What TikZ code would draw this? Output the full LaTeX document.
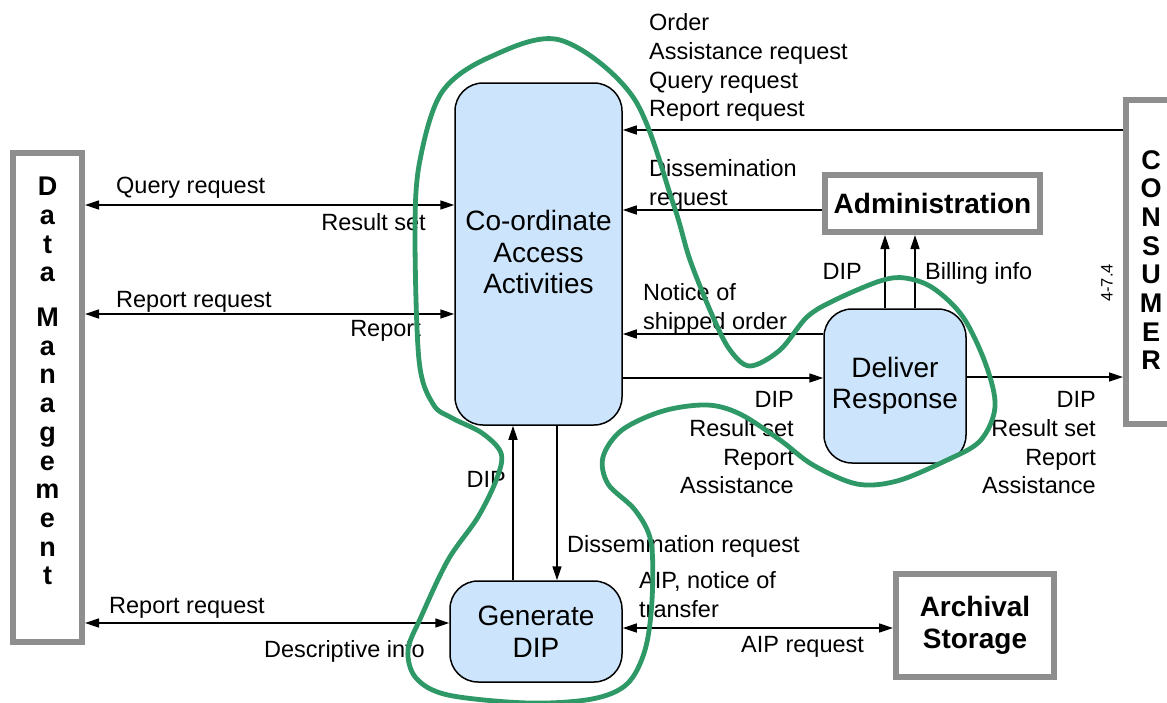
\documentclass[tikz,border=0pt]{standalone}
\usepackage{fontspec}
\setmainfont{Liberation Sans}
\usetikzlibrary{arrows.meta}
\definecolor{procblue}{HTML}{CCE5FC}
\definecolor{extgray}{HTML}{8E8E8E}
\definecolor{loopgreen}{HTML}{2E9966}
\begin{document}
\begin{tikzpicture}[x=1pt,y=-1pt,
  proc/.style={draw=black, line width=1.5pt, fill=procblue, rounded corners=28pt,
    align=center, inner sep=0pt, font=\fontsize{28}{31.5}\selectfont},
  extbox/.style={draw=extgray, line width=6pt, fill=white, align=center, inner sep=0pt,
    font=\bfseries\fontsize{28}{31.5}\selectfont},
  vtext/.style={align=center, inner sep=0pt, anchor=north,
    font=\bfseries\fontsize{27}{28.7}\selectfont},
  lbl/.style={inner sep=0pt, font=\fontsize{23.5}{28.7}\selectfont},
  arr/.style={line width=1.5pt, -{Triangle[length=14pt,width=9pt]}},
  dbl/.style={line width=1.5pt, {Triangle[length=14pt,width=9pt]}-{Triangle[length=14pt,width=9pt]}},
  loop/.style={draw=loopgreen, line width=4.8pt, line join=round}]

\clip (0,0) rectangle (1167,702);
\fill[white] (0,0) rectangle (1167,702);

% external entities
\node[extbox, minimum width=69, minimum height=489] (dm) at (47.5,397.5) {};
\node[vtext] (dmtxt) at (47.5,177)
  {D\\a\\t\\a\\[16pt]M\\a\\n\\a\\g\\e\\m\\e\\n\\t};
\node[extbox, minimum width=64, minimum height=324] (cons) at (1158,262) {};
\node[vtext] (constxt) at (1151,150)
  {C\\O\\N\\S\\U\\M\\E\\R};
\node[extbox, minimum width=215, minimum height=57] (adm) at (932.5,203.5) {Administration};
\node[extbox, minimum width=158, minimum height=103] (arch) at (975,625.5) {Archival\\Storage};
\node[inner sep=0pt, rotate=90, font=\fontsize{16.5}{16.5}\selectfont] (ref) at (1107,283) {4-7.4};

% functions
\node[proc, minimum width=167, minimum height=342] (coa) at (538.5,254) {};
\node[align=center, inner sep=0pt, font=\fontsize{28}{31.5}\selectfont] (coatxt) at (538.5,252)
  {Co-ordinate\\Access\\Activities};
\node[proc, minimum width=172, minimum height=101] (gen) at (536,631.5) {Generate\\DIP};
\node[proc, minimum width=142, minimum height=154] (del) at (895,386) {Deliver\\Response};

% data flows
\draw[dbl] (dm.east |- 0,205) -- (coa.west |- 0,205);
\draw[dbl] (dm.east |- 0,314) -- (coa.west |- 0,314);
\draw[dbl] (dm.east |- 0,623) -- (gen.west |- 0,623);
\draw[arr] (cons.west |- 0,130) -- (coa.east |- 0,130);
\draw[arr] (adm.west |- 0,210) -- (coa.east |- 0,210);
\draw[arr] (del.west |- 0,334) -- (coa.east |- 0,334);
\draw[arr] (coa.east |- 0,378) -- (del.west |- 0,378);
\draw[arr] (del.east |- 0,377) -- (cons.west |- 0,377);
\draw[arr] (del.north -| 885,0) -- (adm.south -| 885,0);
\draw[arr] (del.north -| 915,0) -- (adm.south -| 915,0);
\draw[arr] (gen.north -| 513,0) -- (coa.south -| 513,0);
\draw[arr] (coa.south -| 557,0) -- (gen.north -| 557,0);
\draw[dbl] (gen.east |- 0,628) -- (arch.west |- 0,628);

% flow labels
\node[lbl, anchor=west] (l1) at (116,188) {Query request};
\node[lbl, anchor=east] (l2) at (426,222) {Result set};
\node[lbl, anchor=west] (l3) at (116,302) {Report request};
\node[lbl, anchor=east] (l4) at (421,331) {Report};
\node[lbl, anchor=west] (l5) at (109,608) {Report request};
\node[lbl, anchor=east] (l6) at (425,651) {Descriptive info};
\node[lbl, anchor=north west, align=left] (l7) at (649,13.5)
  {Order\\Assistance request\\Query request\\Report request};
\node[lbl, anchor=north west, align=left] (l8) at (649,159.5) {Dissemination\\request};
\node[lbl, anchor=north west, align=left] (l9) at (643,283.5) {Notice of\\shipped order};
\node[lbl, anchor=north east, align=right] (l10) at (794,391.5) {DIP\\Result set\\Report\\Assistance};
\node[lbl, anchor=north east, align=right] (l11) at (1096,391.5) {DIP\\Result set\\Report\\Assistance};
\node[lbl, anchor=east] (l12) at (862,271) {DIP};
\node[lbl, anchor=west] (l13) at (925,273) {Billing info};
\node[lbl, anchor=east] (l14) at (506,479) {DIP};
\node[lbl, anchor=west] (l15) at (567,546) {Dissemination request};
\node[lbl, anchor=north west, align=left] (l16) at (639,571.5) {AIP, notice of\\transfer};
\node[lbl, anchor=west] (l17) at (741,647) {AIP request};

% hand-drawn boundary loop
\draw[loop] plot[smooth cycle, tension=0.55] coordinates {
  (560,40) (633,97) (673,203) (690,260) (713,317) (730,350) (750,366)
  (780,350) (807,317) (835,300) (880,281) (905,278) (933,288) (963,317)
  (986,365) (995,407) (980,441) (945,461) (897,481) (857,484) (813,465)
  (780,440) (740,414) (707,405) (663,411) (622,430) (603,457) (608,484)
  (635,510) (651,542) (652,600) (645,650) (627,684) (592,699) (528,703)
  (448,695) (416,678) (408,650) (421,617) (448,560) (478,517) (497,478)
  (501,453) (482,433) (452,418) (433,404) (419,360) (415,230) (420,160)
  (442,92) (490,57)};
\end{tikzpicture}
\end{document}
